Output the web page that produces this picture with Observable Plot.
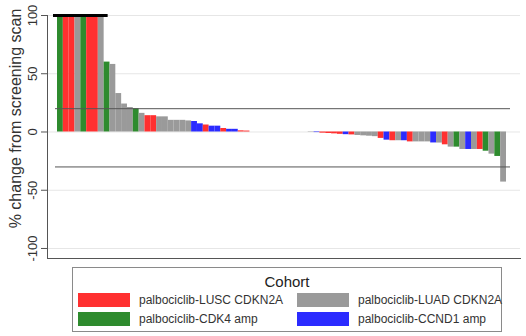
<!DOCTYPE html>
<html><head><meta charset="utf-8">
<script src="https://cdn.jsdelivr.net/npm/d3@7"></script>
<script src="https://cdn.jsdelivr.net/npm/@observablehq/plot@0.6"></script>
<style>
body{margin:0;background:#fff;font-family:"Liberation Sans",Arial,sans-serif;}
#wrap{position:relative;width:526px;height:336px;overflow:hidden;}
#chart{position:absolute;left:0;top:0;}
#legend{position:absolute;left:72px;top:267px;width:428px;height:63px;border:1px solid #8a8a8a;background:#fff;}
#legend .title{position:absolute;left:0;right:0;top:5px;text-align:center;font-size:15px;color:#222;line-height:18px;}
#legend .item{position:absolute;height:14px;}
#legend .sw{position:absolute;left:0;top:0;width:52px;height:14px;}
#legend .lab{position:absolute;left:61px;top:-1px;font-size:12px;line-height:16px;color:#333;white-space:nowrap;}
</style></head><body>
<div id="wrap"><div id="chart"></div><div id="legend"></div></div>
<script>
// Cohorts (legend order) and colours
const cohortNames = ["palbociclib-LUSC CDKN2A", "palbociclib-LUAD CDKN2A", "palbociclib-CDK4 amp", "palbociclib-CCND1 amp"];
const cohortCodes = ["L", "D", "K", "C"];
const cohortColors = ["#ff3030", "#9a9a9a", "#2e8b2e", "#2b2bff"];

// One entry per patient, in plotted (waterfall) order
const barCohort = [
  "K","L","L","D","K","L","L","D","K","D",
  "D","D","D","K","D","L","L","D","D","D",
  "D","D","D","C","C","L","C","C","L","C",
  "C","L","L","D","D","D","D","D","D","D",
  "D","D","D","D","C","L","L","L","L","C",
  "L","D","D","D","D","L","C","L","D","C",
  "L","D","D","D","C","D","L","D","K","D",
  "C","D","L","K","D","K","D"
];
const barChange = [
  100,100,100,100,100,100,100,100,60,58,
  33,24,21,20,16,14,14,13,13,10,
  10,10,9.5,9,7,6,5,5,3,2.3,
  2.3,1,0.8,0,0,0,0,0,0,0,
  0,0,0,-0.3,-0.5,-1,-1.3,-1.6,-2,-2.3,
  -2.5,-3,-3.3,-3.6,-4,-5.5,-7,-7.5,-7.5,-7.5,
  -8.5,-8.5,-8.5,-8.5,-9.4,-9.5,-11,-13,-13,-15,
  -15,-15,-15,-16.5,-19,-21,-43
];

// Axis and reference values
const yTicks = [-100, -50, 0, 50, 100];
const refLines = [20, -30];
const capValue = 100;
const yLabel = "% change from screening scan";
const legendTitle = "Cohort";

const data = barChange.map((v, i) => ({
  i, value: v, cohort: cohortNames[cohortCodes.indexOf(barCohort[i])]
}));

const font = '"Liberation Sans", Arial, sans-serif';

const chart = Plot.plot({
  width: 526,
  height: 262,
  marginLeft: 47,
  marginRight: 6,
  marginTop: 15,
  marginBottom: 4,
  style: {fontFamily: font, background: "#fff", overflow: "visible"},
  x: {type: "band", domain: data.map(d => d.i), padding: 0, round: false, insetLeft: 10, insetRight: 14, axis: null},
  y: {domain: [-108.6, 100], axis: null},
  color: {domain: cohortNames, range: cohortColors},
  marks: [
    Plot.gridY(yTicks, {stroke: "#e6e6e6", strokeOpacity: 1}),
    Plot.barY(data, {x: "i", y: "value", fill: "cohort"}),
    Plot.ruleY(refLines, {stroke: "#555", strokeWidth: 1, insetLeft: 8, insetRight: 10}),
    Plot.ruleY(data.filter(d => d.value >= capValue), {x: "i", y: capValue, stroke: "#000", strokeWidth: 3, insetLeft: -4, insetRight: -4}),
    Plot.frame({anchor: "left", stroke: "#555"}),
    Plot.frame({anchor: "bottom", stroke: "#555"}),
    Plot.axisY(yTicks, {tickSize: 6, tickFormat: () => "", stroke: "#555", label: null}),
    Plot.text(yTicks, {y: d => d, text: d => String(d), frameAnchor: "left", dx: -15, rotate: -90, textAnchor: "middle", lineAnchor: "middle", fontSize: 13, fill: "#333"}),
    Plot.text([yLabel], {text: d => d, frameAnchor: "top-left", dx: -32, dy: 103, rotate: -90, textAnchor: "middle", lineAnchor: "middle", fontSize: 16, fill: "#333"})
  ]
});
document.getElementById("chart").appendChild(chart);

// Legend (HTML, below the SVG)
const legend = document.getElementById("legend");
const t = document.createElement("div");
t.className = "title"; t.textContent = legendTitle;
legend.appendChild(t);
const legendPos = [[5, 25], [224, 25], [5, 44], [224, 44]];
const legendOrder = ["L", "D", "K", "C"];
legendOrder.forEach((c, k) => {
  const idx = cohortCodes.indexOf(c);
  const it = document.createElement("div");
  it.className = "item";
  it.style.left = legendPos[k][0] + "px";
  it.style.top = legendPos[k][1] + "px";
  const sw = document.createElement("div");
  sw.className = "sw"; sw.style.background = cohortColors[idx];
  const lab = document.createElement("div");
  lab.className = "lab"; lab.textContent = cohortNames[idx];
  it.appendChild(sw); it.appendChild(lab);
  legend.appendChild(it);
});
</script>
</body></html>
